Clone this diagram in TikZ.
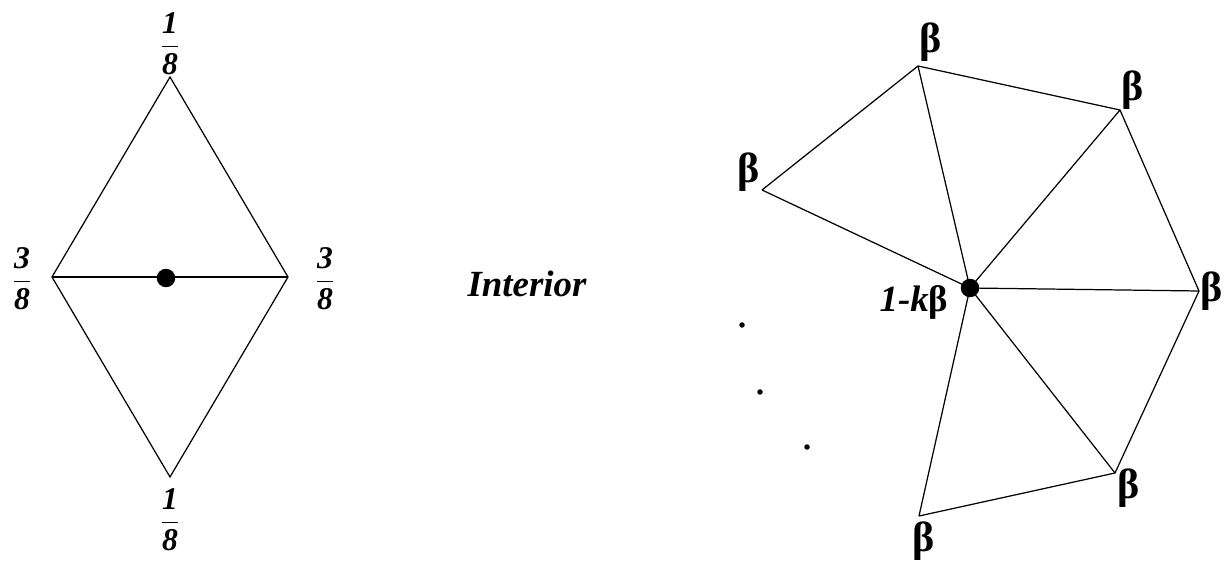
\documentclass[tikz,border=0pt]{standalone}
\usepackage{fontspec}
\setmainfont{Liberation Serif}
\usetikzlibrary{positioning}

\newcommand\wfrac[2]{$\displaystyle\frac{\mbox{#1}}{\mbox{#2}}$}

\begin{document}
\begin{tikzpicture}[
  x=0.02cm,y=-0.02cm,
  edge/.style={line width=0.7pt},
  hub/.style={circle,fill=black,inner sep=0pt,minimum size=0.37cm},
  gapdot/.style={circle,fill=black,inner sep=0pt,minimum size=0.11cm},
  wt/.style={font=\fontsize{18}{18}\selectfont\bfseries\itshape,inner sep=0pt},
  beta/.style={font=\fontsize{24}{24}\selectfont\bfseries,inner sep=0pt},
  tag/.style={font=\fontsize{21}{21}\selectfont\bfseries\itshape,inner sep=0pt},
]
  \useasboundingbox (0,0) rectangle (1225,564);

  % boundary edge stencil
  \coordinate (dt) at (170,77);
  \coordinate (dl) at (52,277);
  \coordinate (dr) at (288,277);
  \coordinate (db) at (170,477);
  \draw[edge] (dt) -- (dr) -- (db) -- (dl) -- cycle;
  \draw[edge] (dl) -- (dr);
  \node[hub] (dc) at (166,278) {};
  \node[wt] (wt) at (170,44) {\wfrac{1}{8}};
  \node[wt] (wb) at (170,520) {\wfrac{1}{8}};
  \node[wt] (wl) at (22,279) {\wfrac{3}{8}};
  \node[wt] (wr) at (325,279) {\wfrac{3}{8}};

  \node[tag] (interior) at (527,284) {Interior};

  % interior vertex stencil
  \node[hub] (c) at (970,288) {};
  \coordinate (v1) at (762,190);
  \coordinate (v2) at (918,66);
  \coordinate (v3) at (1120,110);
  \coordinate (v4) at (1199,291);
  \coordinate (v5) at (1115,473);
  \coordinate (v6) at (919,516);
  \draw[edge] (v1) -- (v2) -- (v3) -- (v4) -- (v5) -- (v6);
  \foreach \i in {1,...,6}
    \draw[edge] (c.center) -- (v\i);

  \node[beta] (b1) at (749,172) {β};
  \node[beta] (b2) at (931,42) {β};
  \node[beta] (b3) at (1133,90) {β};
  \node[beta] (b4) at (1212,291) {β};
  \node[beta] (b5) at (1129,488) {β};
  \node[beta] (b6) at (924,541) {β};
  \node[tag] (ck) at (914,302) {1-k\upshape β};

  \node[gapdot] (g1) at (742,325) {};
  \node[gapdot] (g2) at (760,392) {};
  \node[gapdot] (g3) at (807,447) {};
\end{tikzpicture}
\end{document}
